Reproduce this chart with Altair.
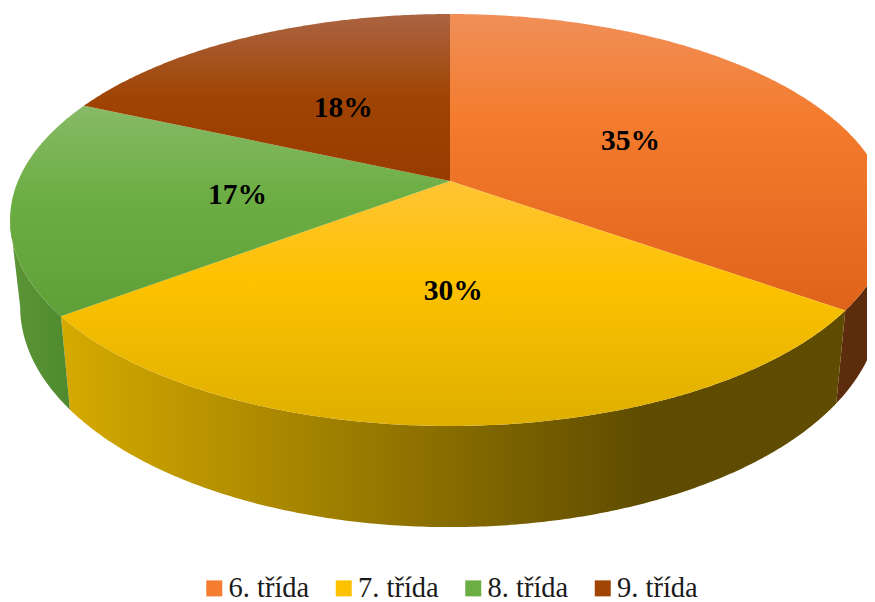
import math
import altair as alt
import pandas as pd

classes = ["6. třída", "7. třída", "8. třída", "9. třída"]
shares = [34.85, 29.85, 17.0, 18.3]
labels = ["35%", "30%", "17%", "18%"]
legend_colors = ["#f47d30", "#fcc200", "#6dae44", "#a04503"]
top_stops = [
    [(0, "#f08f58"), (0.35, "#f47c2e"), (1, "#e0631b")],
    [(0, "#ffc435"), (0.4, "#fdc200"), (1, "#deaf00")],
    [(0, "#87ba67"), (0.42, "#6dae44"), (1, "#5e9f37")],
    [(0, "#ab6442"), (0.5, "#9f4403"), (1, "#983b00")],
]
wall_stops = [
    [(0, "#5c2c0c"), (1, "#5c2c0c")],
    [(0, "#d6aa00"), (0.3, "#a78500"), (0.74, "#5f4c00"), (1, "#5f4c00")],
    [(0, "#5b9536"), (1, "#4f8a2f")],
    [(0, "#5c2c0c"), (1, "#5c2c0c")],
]

W, H = 859, 594
# perspective of the tilted disc, in page-like pixels inside the plot
CX, CY, RX, RY, TILT = 442, 173, 432, 198.6, 0.1893


def top_point(theta_deg, r=1.0):
    t = math.radians(theta_deg)
    u, v = r * math.sin(t), r * math.cos(t)
    d = 1 + TILT * v
    return CX + RX * u / d, CY - RY * v / d


def bottom_point(theta_deg):
    x, y = top_point(theta_deg)
    return CX + 0.977 * (x - CX), y + 84 + 0.07 * (y - CY)


def gradient(stops, horizontal=False):
    return alt.Gradient(
        gradient="linear",
        stops=[alt.GradientStop(offset=o, color=c) for o, c in stops],
        x1=0, x2=1 if horizontal else 0, y1=0, y2=0 if horizontal else 1,
    )


xs = alt.Scale(domain=[0, W], nice=False, zero=False)
ys = alt.Scale(domain=[H, 0], nice=False, zero=False)


def polygon(points, fill):
    df = pd.DataFrame(points, columns=["x", "y"]).assign(i=range(len(points)))
    return alt.Chart(df).mark_line(
        fill=fill, stroke="transparent", strokeWidth=0, clip=True, interpolate="linear-closed"
    ).encode(
        x=alt.X("x:Q", scale=xs, axis=None),
        y=alt.Y("y:Q", scale=ys, axis=None),
        order="i:Q",
    )


edges = [0]
for s in shares:
    edges.append(edges[-1] + s * 360 / sum(shares))

layers = []
# side walls, from silhouette to silhouette
wall_ranges = [(101, edges[1]), (edges[1], edges[2]), (edges[2], 259)]
for idx, (a, b) in zip([0, 1, 2], wall_ranges):
    n = int(b - a) * 2
    angles = [a + (b - a) * k / n for k in range(n + 1)]
    pts = [top_point(t) for t in angles] + [bottom_point(t) for t in reversed(angles)]
    layers.append(polygon(pts, gradient(wall_stops[idx], horizontal=True)))
# top faces
for idx in range(4):
    a, b = edges[idx], edges[idx + 1]
    n = int(b - a) * 2
    pts = [(CX, CY)] + [top_point(a + (b - a) * k / n) for k in range(n + 1)]
    layers.append(polygon(pts, gradient(top_stops[idx])))

# value labels
lab = []
for idx, s in enumerate(labels):
    x, y = top_point((edges[idx] + edges[idx + 1]) / 2, 0.49)
    lab.append({"x": x, "y": y + 3, "label": s})
layers.append(
    alt.Chart(pd.DataFrame(lab)).mark_text(
        font="Liberation Serif", fontSize=29.5, fontWeight="bold", color="#000000"
    ).encode(x=alt.X("x:Q", scale=xs, axis=None), y=alt.Y("y:Q", scale=ys, axis=None), text="label:N")
)

# legend
leg = pd.DataFrame({"trida": classes, "x": [0] * 4, "y": [0] * 4})
layers.append(
    alt.Chart(leg).mark_point(opacity=0, filled=True).encode(
        x=alt.X("x:Q", scale=xs, axis=None),
        y=alt.Y("y:Q", scale=ys, axis=None),
        color=alt.Color(
            "trida:N",
            scale=alt.Scale(domain=classes, range=legend_colors),
            legend=alt.Legend(
                title=None, orient="none", direction="horizontal", columns=4,
                legendX=192, legendY=566, symbolType="square", symbolSize=256,
                symbolOpacity=1, symbolStrokeWidth=0, labelFont="Liberation Serif",
                labelFontSize=28.5, labelColor="#1a1a1a", columnPadding=19.5, labelOffset=0,
                labelLimit=200, padding=0,
            ),
        ),
    )
)

chart = alt.layer(*layers).properties(
    width=W, height=H, padding=0, autosize=alt.AutoSizeParams(type="none"), background="white"
).configure_view(stroke=None)

chart.save("out.html", embed_options={"renderer": "svg", "actions": False})
